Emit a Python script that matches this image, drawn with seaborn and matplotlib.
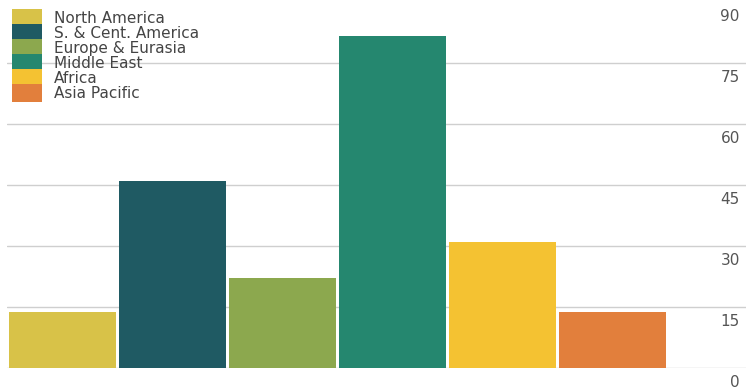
import matplotlib
matplotlib.use("Agg")
import matplotlib.pyplot as plt
import matplotlib.transforms as mtransforms
import seaborn as sns
import pandas as pd

regions = ["North America", "S. & Cent. America", "Europe & Eurasia",
           "Middle East", "Africa", "Asia Pacific"]
values = [13.8, 45.8, 22.0, 81.6, 30.9, 13.8]
colors = ["#D8C248", "#1F5A63", "#8CA84E", "#25876F", "#F4C232", "#E27F3C"]
yticks = [0, 15, 30, 45, 60, 75, 90]
ytick_labels = ["0", "15", "30", "45", "60", "75", "90"]

sns.set_theme(style="white")
plt.rcParams["font.family"] = ["DejaVu Sans"]

df = pd.DataFrame({"region": regions, "value": values})

fig = plt.figure(figsize=(7.46, 3.91), dpi=100)
ax = fig.add_axes([7 / 746, (391 - 367.7) / 391, 739 / 746, 366 / 391])

sns.barplot(data=df, x="region", y="value", hue="region", order=regions,
            hue_order=regions, palette=colors, dodge=False, width=0.975,
            saturation=1, legend=True, ax=ax, linewidth=0)

ax.set_xlim(-0.5055, 6.21)
ax.set_ylim(0, 90)
ax.set_xlabel("")
ax.set_ylabel("")
ax.set_xticks([])
for s in ax.spines.values():
    s.set_visible(False)

ax.set_axisbelow(True)
ax.yaxis.tick_right()
ax.set_yticks(yticks)
ax.set_yticklabels(ytick_labels, fontsize=11, color="#555555", ha="right")
ax.tick_params(axis="y", length=0, pad=-4.5)
ax.yaxis.grid(True, color="#CFCFCF", linewidth=1.0)
ax.get_ygridlines()[-1].set_visible(False)
offset = mtransforms.ScaledTranslation(0, -13 / 100, fig.dpi_scale_trans)
for lab in ax.get_yticklabels():
    lab.set_transform(lab.get_transform() + offset)

leg = ax.legend(loc="upper left", bbox_to_anchor=(12 / 746, 1 - 11 / 391),
                bbox_transform=fig.transFigure, frameon=False, fontsize=11,
                labelspacing=0.0, handlelength=1.95, handleheight=1.0,
                handletextpad=0.8, borderpad=0, borderaxespad=0)
for t in leg.get_texts():
    t.set_color("#444444")
for h in leg.legend_handles:
    hh = h.get_height()
    h.set_height(hh * 1.3)
    h.set_y(h.get_y() - hh * 0.15)

fig.savefig("out.png", dpi=100)
